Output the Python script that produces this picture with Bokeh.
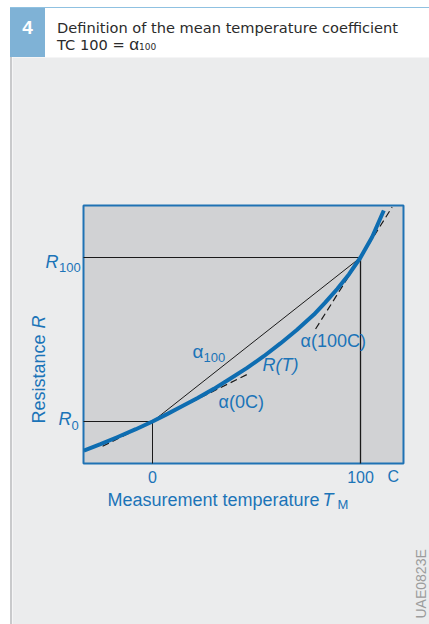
from bokeh.plotting import figure
from bokeh.models import Label, Div, Range1d
from bokeh.layouts import column, row
from bokeh.embed import file_html
from bokeh.resources import INLINE
import math

# ---- data (R normalised so that R0 = 1, R100 = 2) ----
T_curve = [-33, -25, -17, -8, 0, 7, 13.5, 21.5, 29.5, 37.5, 45.5, 53.5, 61.5, 69.5,
           77.6, 83, 88.8, 94.5, 100, 105.6, 111.2]
R_curve = [0.823, 0.862, 0.904, 0.953, 1.0, 1.045, 1.088, 1.142, 1.199, 1.262, 1.327, 1.398,
           1.476, 1.559, 1.652, 1.725, 1.808, 1.898, 2.0, 2.125, 2.287]

T_ref = [0, 100]          # reference temperatures
R_ref = [1.0, 2.0]        # R0, R100
tick_labels = ["0", "100"]

tan0_T = [-24, 45.5]       # tangent alpha(0C)
tan0_R = [0.849, 1.287]
tan100_T = [78.4, 115.2]   # tangent alpha(100C)
tan100_R = [1.564, 2.307]

# plotted window of the diagram
x_lo, x_hi = -33.17, 120.67
y_lo, y_hi = 0.744, 2.317

BLUE_TXT = "#1b74b8"
BLUE_LINE = "#0e6db1"
FONT = "Liberation Sans"

# canvas geometry (page pixels): figure spans x 12..429, y 57..624
def px2T(px):
    return (px - 152) / 2.08

def py2R(py):
    return 1 + (421 - py) / 164

p = figure(width=417, height=567,
           x_range=Range1d(px2T(12), px2T(429)), y_range=Range1d(py2R(624), py2R(57)),
           x_axis_location=None, y_axis_location=None,
           output_backend="svg", toolbar_location=None, min_border=0)
p.background_fill_color = "#ebeced"
p.border_fill_color = "#ebeced"
p.outline_line_color = None
p.xgrid.visible = False
p.ygrid.visible = False

# diagram box
p.quad(left=[x_lo], right=[x_hi], bottom=[y_lo], top=[y_hi],
       fill_color="#d1d2d4", line_color="#1f72b4", line_width=2)

# guide lines
p.line([x_lo, T_ref[1]], [R_ref[1], R_ref[1]], line_color="#1a1a1a", line_width=1)
p.line([x_lo, T_ref[0]], [R_ref[0], R_ref[0]], line_color="#1a1a1a", line_width=1)
p.line([T_ref[0], T_ref[0]], [y_lo, R_ref[0]], line_color="#1a1a1a", line_width=1)
p.line([T_ref[1], T_ref[1]], [y_lo, R_ref[1]], line_color="#1a1a1a", line_width=1.3)
# chord alpha100
p.line(T_ref, R_ref, line_color="#1a1a1a", line_width=1)
# tangents
p.line(tan0_T, tan0_R, line_color="#1a1a1a", line_width=1.2, line_dash="7 4")
p.line(tan100_T, tan100_R, line_color="#1a1a1a", line_width=1.2, line_dash="7 4")
# R(T)
p.line(T_curve, R_curve, line_color=BLUE_LINE, line_width=4, line_join="round")

def lab(text, x, y, size, italic=False, color=BLUE_TXT, angle=0.0, align="left"):
    p.add_layout(Label(x=x, y=y, text=text, text_font=FONT,
                       text_font_size=f"{size}px", text_color=color,
                       text_font_style="italic" if italic else "normal",
                       text_align=align, text_baseline="middle", angle=angle))

# x tick labels
for t, s in zip(T_ref, tick_labels):
    lab(s, t, py2R(476), 16, align="center")
lab("C", px2T(387), py2R(476), 16)
# y "tick" labels
lab("R", px2T(45), py2R(261.5), 18, italic=True)
lab("100", px2T(58.5), py2R(267), 13)
lab("R", px2T(58), py2R(418.5), 18, italic=True)
lab("0", px2T(71), py2R(424.5), 13)
# y axis title (vertical)
lab("Resistance ", px2T(38.5), py2R(423), 18, angle=math.pi / 2)
lab("R", px2T(38.5), py2R(328), 18, italic=True, angle=math.pi / 2)
# x axis title
lab("Measurement temperature ", px2T(107), py2R(499.5), 18)
lab("T", px2T(322), py2R(499.5), 18, italic=True)
lab("M", px2T(337), py2R(504), 13)
# curve labels
lab("\u03b1", px2T(192), py2R(350.5), 19)
lab("100", px2T(203), py2R(356.5), 13)
lab("R(T)", px2T(262), py2R(364), 18, italic=True)
lab("\u03b1(100C)", px2T(300), py2R(340), 18)
lab("\u03b1(0C)", px2T(218), py2R(401.5), 18)
# drawing code
lab("UAE0823E", px2T(420.5), py2R(618), 14, color="#9c9c9c", angle=math.pi / 2)

header_html = """
<div style="position:relative;width:429px;height:57px;background:#ffffff;">
  <div style="position:absolute;left:10px;top:7px;width:419px;height:1px;background:#8fc1e1;"></div>
  <div style="position:absolute;left:10px;top:8px;width:35px;height:49px;background:#7fb2d6;"></div>
  <div style="position:absolute;left:10px;top:17px;width:35px;text-align:center;color:#ffffff;
       font-family:'Liberation Sans';font-weight:bold;font-size:19px;line-height:22px;">4</div>
  <div style="position:absolute;left:57px;top:19px;color:#2b2b2b;font-family:'DejaVu Sans';
       font-size:14.6px;line-height:17px;white-space:nowrap;">Definition of the mean temperature coefficient</div>
  <div style="position:absolute;left:57px;top:37px;color:#2b2b2b;font-family:'DejaVu Sans';
       font-size:14.6px;line-height:15px;white-space:nowrap;">TC 100 = <span style="font-family:'Liberation Sans';font-size:17px;">&alpha;</span><span style="font-size:9px;">100</span></div>
</div>
"""
header = Div(text=header_html, width=429, height=57, margin=0)
spacer = Div(text="", width=10, height=567, margin=0)
edge = Div(text='<div style="width:2px;height:567px;background:#c9cacc;"></div>', width=2, height=567, margin=0)

layout = column(header, row(spacer, edge, p, spacing=0), spacing=0)

open("out.html", "w").write(file_html(layout, INLINE))
